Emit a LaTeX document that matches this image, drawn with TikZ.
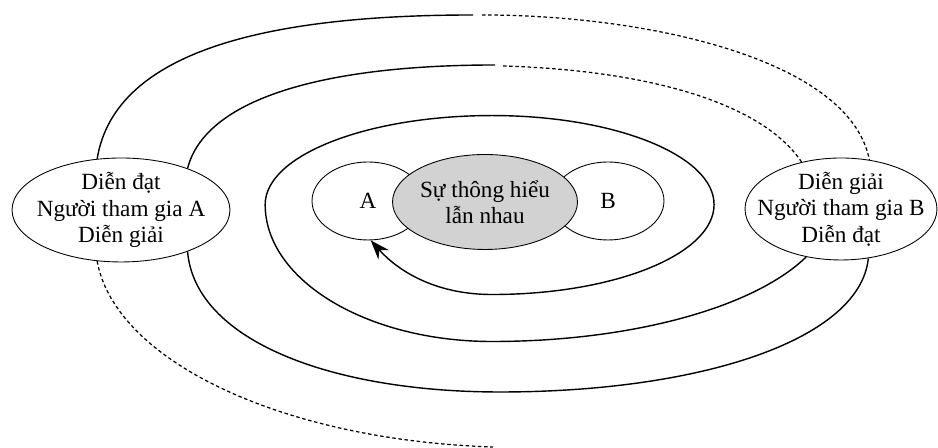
\documentclass[tikz,border=0pt]{standalone}
\usepackage{fontspec}
\setmainfont{Liberation Serif}
\usepackage{tikz}
\usetikzlibrary{shapes.geometric, arrows.meta}
\tikzstyle{party} = [ellipse, draw=black, line width=0.5pt, minimum width=4.36cm, minimum height=2.08cm]
\tikzstyle{side} = [ellipse, draw=black, line width=0.5pt, minimum width=2.24cm, minimum height=1.56cm]
\tikzstyle{mutual} = [ellipse, draw=black, line width=0.5pt, fill=gray!35, minimum width=3.7cm, minimum height=1.9cm]
\tikzstyle{loop} = [line width=0.8pt, >={Stealth[length=11pt,width=8pt]}]
\tikzstyle{faded} = [line width=0.7pt, dash pattern=on 2pt off 1.5pt]

\begin{document}
\begin{tikzpicture}[x=0.02cm, y=0.02cm, font=\fontsize{13.2}{15}\selectfont]
    \useasboundingbox (0,0) rectangle (938,448);
    \node (la) [party, label={[align=center]center:Diễn đạt\\Người tham gia A\\Diễn giải}] at (121,238) {};
    \node (rb) [party, minimum width=3.84cm, minimum height=2.04cm, label={[align=center]center:Diễn giải\\Người tham gia B\\Diễn đạt}] at (841,239) {};
    \node (a) [side] at (368,247) {A};
    \node (b) [side] at (608,247) {B};
    \node (su) [mutual, label={[align=center]center:Sự thông hiểu\\lẫn nhau}] at (485,246) {};

    % where solid turns into dashed
    \coordinate (t1) at (473,433);
    \coordinate (t1d) at (482,433);
    \coordinate (t2) at (495,383);
    \coordinate (t2d) at (503,382);
    \coordinate (t3) at (493,1);

    % outer loop
    \draw [loop] (la.115) .. controls (115,398) and (270,433) .. (t1);
    \draw [faded] (t1d) .. controls (650,433) and (850,388) .. (rb.60);
    \draw [faded] (la.-115) .. controls (115,88) and (280,8) .. (t3);

    % middle loop
    \draw [loop] (la.32) .. controls (205,348) and (320,383) .. (t2);
    \draw [faded] (t2d) .. controls (640,378) and (760,348) .. (rb.130);
    \draw [loop] (la.-32) .. controls (195,108) and (330,56) .. (500,56)
        .. controls (700,56) and (860,108) .. (rb.-61);

    % spiral back to A
    \draw [loop, ->] (rb.-126)
        arc[start angle=-22.5, end angle=-90, x radius=6.8cm, y radius=2.74cm]
        arc[start angle=-90, end angle=-180, x radius=4.54cm, y radius=2.74cm]
        arc[start angle=180, end angle=90, x radius=4.54cm, y radius=1.78cm]
        arc[start angle=90, end angle=0, x radius=4.44cm, y radius=1.78cm]
        arc[start angle=0, end angle=-90, x radius=4.44cm, y radius=1.8cm]
        .. controls +(-60,0) and +(25,-28) .. (a.-86);
\end{tikzpicture}
\end{document}
